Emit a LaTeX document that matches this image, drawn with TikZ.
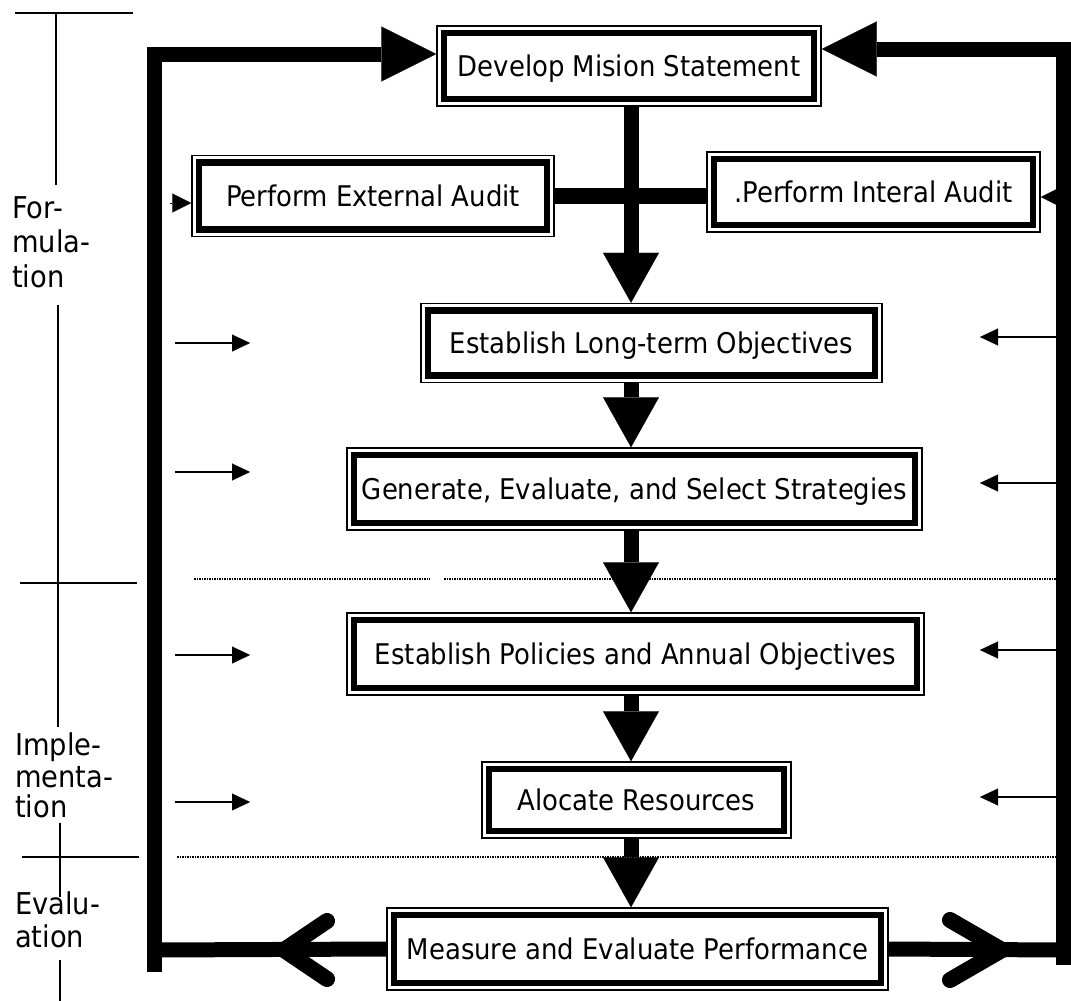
\documentclass[tikz,border=0pt]{standalone}
\usepackage{fontspec}
\setmainfont{DejaVu Sans}[FakeStretch=0.91]
\usetikzlibrary{arrows.meta}

\tikzset{
  % process box: thin outer frame with a heavy inner frame
  dbox/.style={draw, line width=1.5pt, fill=white, inner sep=0pt,
    font=\fontsize{28.5}{34}\selectfont, text height=20pt, text depth=0pt,
    path picture={\draw[line width=6.5pt]
      ([shift={(7pt,7pt)}]path picture bounding box.south west) rectangle
      ([shift={(-7pt,-7pt)}]path picture bounding box.north east);}},
  flow/.style={line width=15pt,
    -{Triangle[length=50pt,width=56pt,line width=0.1pt]}},
  loopline/.style={line width=15pt, line join=miter, line cap=butt},
  bighead/.style={-{Triangle[length=55pt,width=55pt,line width=0.1pt]}},
  headonly/.style={line width=0.1pt,
    -{Triangle[length=19pt,width=19pt,line width=0.1pt]}},
  tiny/.style={line width=2pt,
    -{Triangle[length=18pt,width=17pt,line width=0.1pt]}},
  bracket/.style={line width=1.5pt},
  sep/.style={line width=1.5pt, dash pattern=on 1.5pt off 1pt},
  chevron/.style={line width=16pt, line cap=round, line join=miter},
  phase/.style={font=\fontsize{30}{34}\selectfont, anchor=base west, inner sep=0pt},
}

\begin{document}
\begin{tikzpicture}[x=1pt, y=-1pt]
\fill[white] (0,0) rectangle (1071,1001);
\useasboundingbox (0,0) rectangle (1071,1001);

% phase brackets on the left
\draw[bracket] (15,13) -- (133,13);
\draw[bracket] (56,13) -- (56,185);
\draw[bracket] (58,305) -- (58,727);
\draw[bracket] (20,583) -- (137,583);
\draw[bracket] (60,823) -- (60,897);
\draw[bracket] (22,857) -- (139,857);
\draw[bracket] (60,960) -- (60,1001);

\node[phase] (f1) at (12,218) {For-};
\node[phase] (f2) at (12,252) {mula-};
\node[phase] (f3) at (12,287) {tion};
\node[phase] (i1) at (15,755) {Imple-};
\node[phase] (i2) at (15,787) {menta-};
\node[phase] (i3) at (15,817) {tion};
\node[phase] (e1) at (15,914) {Evalu-};
\node[phase] (e2) at (15,947) {ation};

% stage separators
\draw[sep] (194,579) -- (430,579);
\draw[sep] (444,579) -- (1056,579);
\draw[sep] (177,857) -- (1055,857);

% process boxes
\node[dbox, minimum width=384pt, minimum height=80pt] (mission)  at (629,66)    {Develop Mision Statement};
\node[dbox, minimum width=362pt, minimum height=81pt] (external) at (373,196)   {Perform External Audit};
\node[dbox, minimum width=333pt, minimum height=80pt] (internal) at (873.5,192) {.Perform Interal Audit};
\node[dbox, minimum width=461pt, minimum height=79pt] (longterm) at (651.5,343) {Establish Long-term Objectives};
\node[dbox, minimum width=575pt, minimum height=82pt] (strategy) at (634.5,489) {Generate, Evaluate, and Select Strategies};
\node[dbox, minimum width=577pt, minimum height=82pt] (policies) at (635.5,654) {Establish Policies and Annual Objectives};
\node[dbox, minimum width=309pt, minimum height=76pt] (allocate) at (636.5,800) {Alocate Resources};
\node[dbox, minimum width=501pt, minimum height=82pt] (measure)  at (637.5,949) {Measure and Evaluate Performance};

% main flow
\coordinate (axis) at (631,0);
\draw[line width=16pt] (external.east) -- (external.east -| internal.west);
\draw[flow] (mission.south -| axis)  -- (longterm.north -| axis);
\draw[flow] (longterm.south -| axis) -- (strategy.north -| axis);
\draw[flow] (strategy.south -| axis) -- (policies.north -| axis);
\draw[flow] (policies.south -| axis) -- (allocate.north -| axis);
\draw[flow] (allocate.south -| axis) -- (measure.north -| axis);

% feedback loops
\draw[loopline] (measure.west) -- (154,950);
\draw[loopline, bighead] (154,972) -- (154,54) -- ([yshift=12pt]mission.west);
\draw[chevron] (327,921) -- (284,950) -- (327,979);

\draw[loopline] (measure.east) -- (1063,950);
\draw[loopline, bighead] (1063,965) -- (1063,49) -- ([yshift=17pt]mission.east);
\draw[chevron] (950,920) -- (1002,950) -- (950,980);

% feeds into the audits
\draw[headonly] ([xshift=-21pt,yshift=-7pt]external.west) -- ([yshift=-7pt]external.west);
\draw[headonly] ([xshift=17pt,yshift=-5pt]internal.east) -- ([yshift=-5pt]internal.east);

% side inputs
\foreach \y [count=\i] in {343,472,655,802} {
  \coordinate (inL\i) at (250,\y);
  \draw[tiny] (175,\y) -- (inL\i);
}
\foreach \y [count=\i] in {337,483,650,797} {
  \coordinate (inR\i) at (980,\y);
  \draw[tiny] (1058,\y) -- (inR\i);
}
\end{tikzpicture}
\end{document}
